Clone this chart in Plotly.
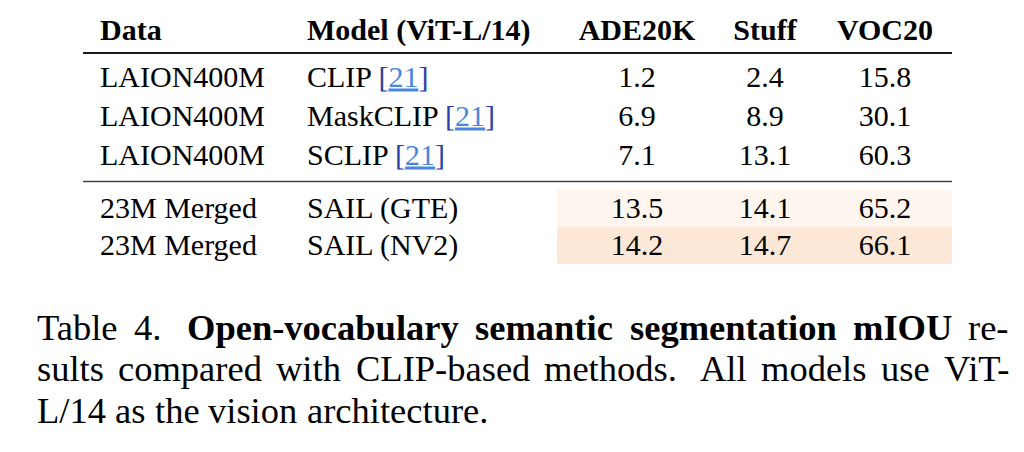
import glob
import plotly.graph_objects as go

headers = ["Data", "Model (ViT-L/14)", "ADE20K", "Stuff", "VOC20"]
data_col = ["LAION400M", "LAION400M", "LAION400M", "23M Merged", "23M Merged"]
model_col = ["CLIP", "MaskCLIP", "SCLIP", "SAIL (GTE)", "SAIL (NV2)"]
refs = ["21", "21", "21", "", ""]
ade20k = [1.2, 6.9, 7.1, 13.5, 14.2]
stuff = [2.4, 8.9, 13.1, 14.1, 14.7]
voc20 = [15.8, 30.1, 60.3, 65.2, 66.1]
highlight = [0, 0, 0, 1, 2]
# caption: (word, bold) tokens per line; "||" marks a wide sentence gap
caption_lines = [
    [("Table", 0), ("4.", 0), ("||", 0), ("Open-vocabulary", 1), ("semantic", 1), ("segmentation", 1), ("mIOU", 1), ("re-", 0)],
    [("sults", 0), ("compared", 0), ("with", 0), ("CLIP-based", 0), ("methods.", 0), ("||", 0), ("All", 0), ("models", 0), ("use", 0), ("ViT-", 0)],
    [("L/14", 0), ("as", 0), ("the", 0), ("vision", 0), ("architecture.", 0)],
]
justify = [True, True, False]

FONT = "Liberation Serif"
FS = 30
CAP_FS = 36.5
row_y = [79, 118, 157, 210, 247]
header_y = 32
col_left = [100, 307]
col_center = [637, 765, 885]
cap_y = [327, 368, 410]
cap_left, cap_right = 35, 1007

fig = go.Figure()

# highlighted cells
hl_colors = {1: "#FEF5EF", 2: "#FDE7D6"}
row_edges = {3: (190, 227), 4: (227, 264)}
for i, h in enumerate(highlight):
    if h:
        y0, y1 = row_edges[i]
        fig.add_shape(type="rect", xref="x", yref="y", x0=557, x1=952, y0=y0, y1=y1,
                      fillcolor=hl_colors[h], line_width=0, layer="below")

# rules
fig.add_shape(type="line", x0=83, x1=952, y0=53, y1=53, line=dict(color="#1a1a1a", width=2))
fig.add_shape(type="line", x0=83, x1=952, y0=181.5, y1=181.5, line=dict(color="#444", width=1.6))

tf = dict(family=FONT, size=FS, color="black")
# header
fig.add_trace(go.Scatter(x=col_left, y=[header_y] * 2, mode="text",
                         text=[f"<b>{h}</b>" for h in headers[:2]], textposition="middle right", textfont=tf))
fig.add_trace(go.Scatter(x=col_center, y=[header_y] * 3, mode="text",
                         text=[f"<b>{h}</b>" for h in headers[2:]], textposition="middle center", textfont=tf))

# data & model columns
fig.add_trace(go.Scatter(x=[col_left[0]] * 5, y=row_y, mode="text", text=data_col,
                         textposition="middle right", textfont=tf))
link = '<span style="color:#2b3fa8;text-decoration:underline">[</span>' \
       '<span style="color:#4a86e0;text-decoration:underline">{}</span>' \
       '<span style="color:#2b3fa8;text-decoration:underline">]</span>'
model_txt = [m + (" " + link.format(r) if r else "") for m, r in zip(model_col, refs)]
fig.add_trace(go.Scatter(x=[col_left[1]] * 5, y=row_y, mode="text", text=model_txt,
                         textposition="middle right", textfont=tf))
for cx, vals in zip(col_center, [ade20k, stuff, voc20]):
    fig.add_trace(go.Scatter(x=[cx] * 5, y=row_y, mode="text", text=[f"{v:.1f}" for v in vals],
                             textposition="middle center", textfont=tf))

# caption with justification (measured with the same font if PIL is available)
measure = None
try:
    from PIL import ImageFont
    reg = (glob.glob("/usr/share/fonts/**/LiberationSerif-Regular.ttf", recursive=True) or [None])[0]
    bld = (glob.glob("/usr/share/fonts/**/LiberationSerif-Bold.ttf", recursive=True) or [None])[0]
    if reg and bld:
        fr = ImageFont.truetype(reg, CAP_FS)
        fb = ImageFont.truetype(bld, CAP_FS)
        measure = lambda w, b: (fb if b else fr).getlength(w)
except Exception:
    measure = None

for li, (tokens, y) in enumerate(zip(caption_lines, cap_y)):
    if measure is None:
        txt = ""
        for w, b in tokens:
            if w == "||":
                txt += " "
                continue
            txt += (" " if txt else "") + (f"<b>{w}</b>" if b else w)
        fig.add_annotation(x=cap_left, y=y, text=txt, showarrow=False, xanchor="left", yanchor="middle",
                           font=dict(family=FONT, size=CAP_FS, color="black"))
        continue
    words, weights = [], []
    extra = 0
    for w, b in tokens:
        if w == "||":
            extra = 0.6
            continue
        if words:
            weights.append(1.0 + extra)
        extra = 0
        words.append((w, b))
    widths = [measure(w, b) for w, b in words]
    space = measure(" ", 0)
    if justify[li]:
        gap_unit = (cap_right - cap_left - sum(widths)) / sum(weights)
    else:
        gap_unit = space
    x = cap_left
    for k, ((w, b), wd) in enumerate(zip(words, widths)):
        fig.add_annotation(x=x, y=y, text=(f"<b>{w}</b>" if b else w), showarrow=False,
                           xanchor="left", yanchor="middle",
                           font=dict(family=FONT, size=CAP_FS, color="black"))
        if k < len(weights):
            x += wd + gap_unit * weights[k]

fig.update_layout(width=1024, height=452, margin=dict(l=0, r=0, t=0, b=0),
                  paper_bgcolor="white", plot_bgcolor="white", showlegend=False,
                  xaxis=dict(range=[8, 1032], visible=False, fixedrange=True),
                  yaxis=dict(range=[460, 8], visible=False, fixedrange=True))
fig.write_html("out.html")
